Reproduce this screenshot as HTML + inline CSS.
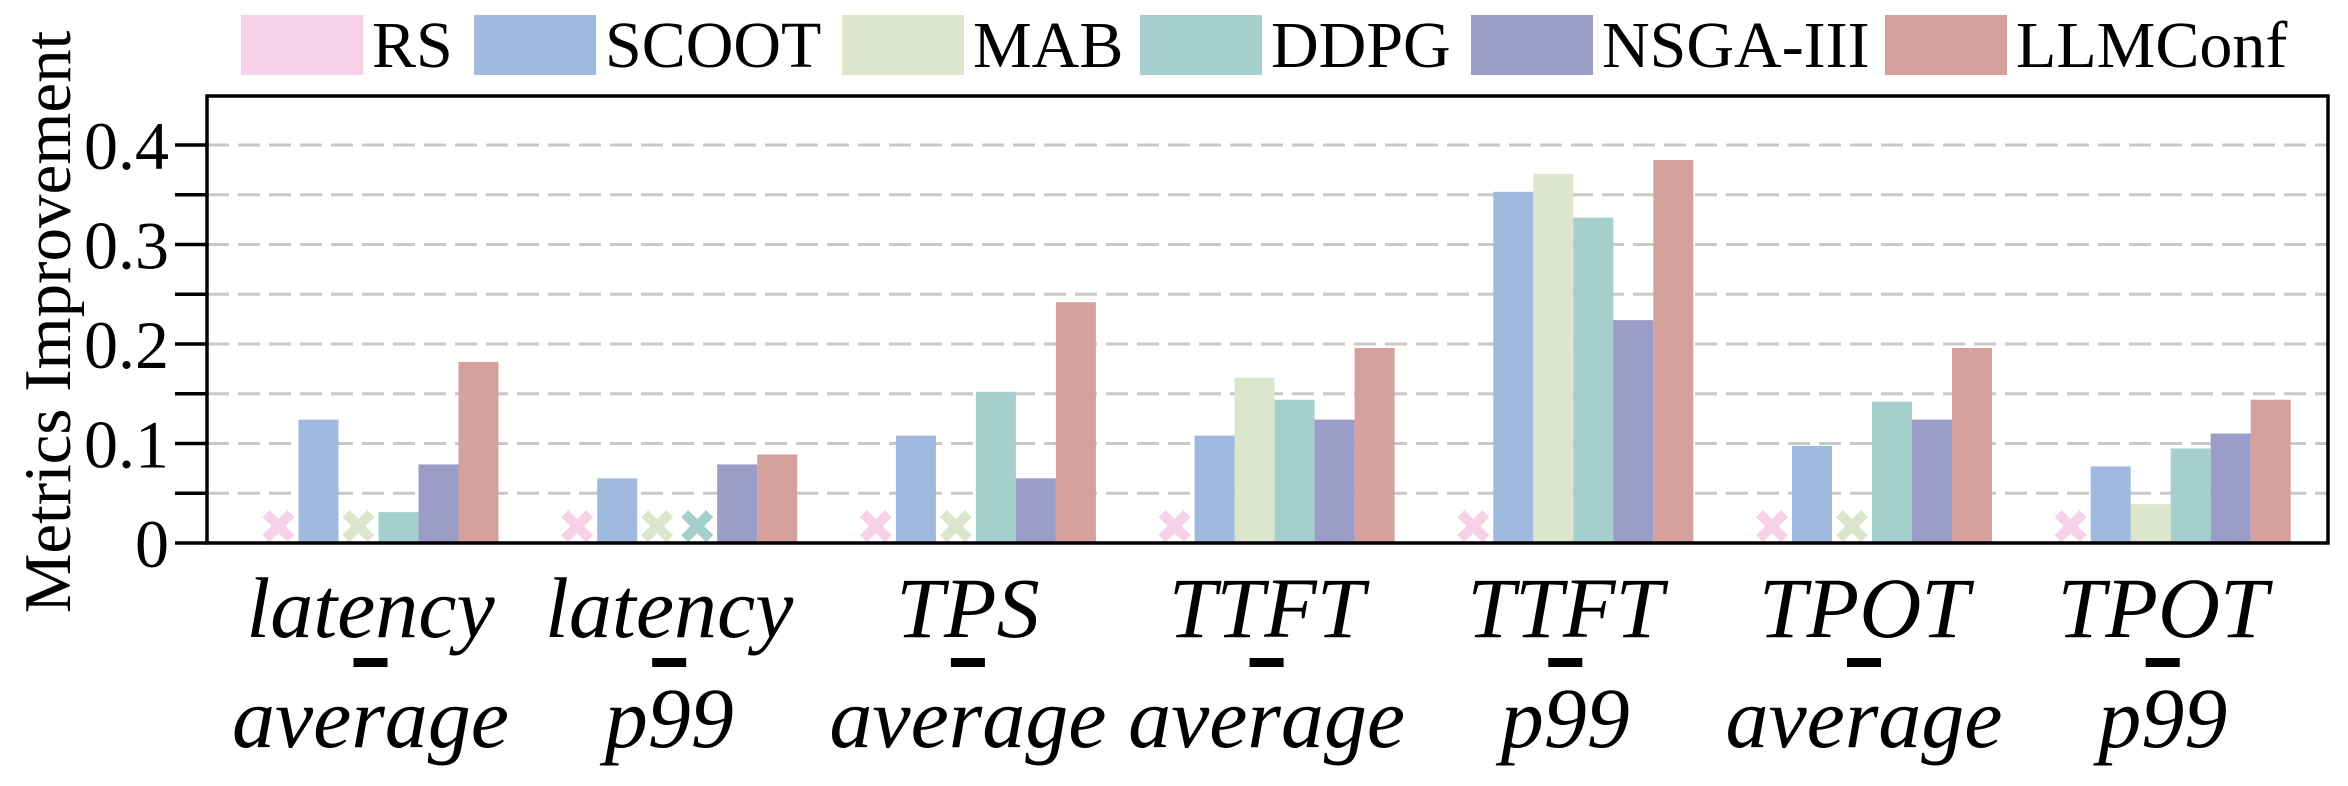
<!DOCTYPE html>
<html><head><meta charset="utf-8"><style>
html,body{margin:0;padding:0;background:#fff;}
svg{display:block;}
text{font-family:"Liberation Serif",serif;fill:#000;}
</style></head>
<body>
<svg id="chart" width="2348" height="786" viewBox="0 0 2348 786" xmlns="http://www.w3.org/2000/svg"></svg>
<script>
const categories = ["latency_average","latency_p99","TPS_average","TTFT_average","TTFT_p99","TPOT_average","TPOT_p99"];
const catLine1 = ["latency","latency","TPS","TTFT","TTFT","TPOT","TPOT"];
const catLine2 = ["average","p99","average","average","p99","average","p99"];
const seriesNames = ["RS","SCOOT","MAB","DDPG","NSGA-III","LLMConf"];
const seriesColors = ["#f7d1e8","#a0b9de","#dce6cc","#a5cfcd","#9b9cc8","#d6a09c"];
// null = no result (drawn as an X marker)
const valsRS     = [null,null,null,null,null,null,null];
const valsSCOOT  = [0.124,0.065,0.108,0.108,0.353,0.0975,0.077];
const valsMAB    = [null,null,null,0.166,0.371,null,0.039];
const valsDDPG   = [0.031,null,0.152,0.144,0.327,0.142,0.095];
const valsNSGA   = [0.079,0.079,0.065,0.124,0.224,0.124,0.110];
const valsLLM    = [0.182,0.089,0.242,0.196,0.385,0.196,0.144];
const majorTicks = [0,0.1,0.2,0.3,0.4];
const tickLabels = ["0","0.1","0.2","0.3","0.4"];
const minorTicks = [0.05,0.15,0.25,0.35];

const allSeries = [valsRS,valsSCOOT,valsMAB,valsDDPG,valsNSGA,valsLLM];
const NS = "http://www.w3.org/2000/svg";
const svg = document.getElementById("chart");
const L = 207, R = 2328, T = 96, B = 543;
const yMax = 0.4493; // domain top at T
function y(v){ return B - (v / yMax) * (B - T); }
const firstCenter = 378.5, groupStep = 298.7, barW = 40;
function xCenter(i){ return firstCenter + i * groupStep; }
function xBar(i, s){ return xCenter(i) - 3 * barW + s * barW; }

function el(tag, attrs, parent){
  const e = document.createElementNS(NS, tag);
  for (const k in attrs) e.setAttribute(k, attrs[k]);
  (parent || svg).appendChild(e);
  return e;
}

// gridlines
const gridG = el("g", {});


[...majorTicks.slice(1), ...minorTicks].forEach(v => {
  const g = el("line", {x1:L, x2:R, y1:y(v), y2:y(v), stroke:"#c8c8c4", "stroke-width":3, "stroke-dasharray":"22 9"}, gridG);
  
  
});

// bars & markers
allSeries.forEach((vals, s) => {
  const sg = el("g", {});
  
  
  vals.forEach((v, i) => {
    const x0 = xBar(i, s);
    if (v === null) {
      const cx = x0 + barW / 2, cy = y(0.017), h = 16, t = 7;
      const d = `M${cx-h},${cy-h+t}L${cx-h+t},${cy-h}L${cx},${cy-t}L${cx+h-t},${cy-h}L${cx+h},${cy-h+t}L${cx+t},${cy}L${cx+h},${cy+h-t}L${cx+h-t},${cy+h}L${cx},${cy+t}L${cx-h+t},${cy+h}L${cx-h},${cy+h-t}L${cx-t},${cy}Z`;
      const m = el("path", {d:d, fill:seriesColors[s]}, sg);
      
      
    } else {
      const b = el("rect", {x:x0, y:y(v), width:barW, height:y(0) - y(v), fill:seriesColors[s]}, sg);
      
      
    }
  });
});

// frame
const frame = el("rect", {x:L, y:T, width:R-L, height:B-T, fill:"none", stroke:"#000", "stroke-width":3.5});



// y ticks
const yAxis = el("g", {});


majorTicks.forEach((v, k) => {
  const t = el("line", {x1:L-32, x2:L, y1:y(v), y2:y(v), stroke:"#000", "stroke-width":3.5}, yAxis);
  
  
  const lb = el("text", {x:L-38, y:y(v)+24, "text-anchor":"end", "font-size":68}, yAxis);
  lb.textContent = tickLabels[k];
  
  
});
minorTicks.forEach(v => {
  const t = el("line", {x1:L-32, x2:L, y1:y(v), y2:y(v), stroke:"#000", "stroke-width":3.5}, yAxis);
  
  
});
const yt = el("text", {x:0, y:0, transform:"translate(70,322) rotate(-90)", "text-anchor":"middle", "font-size":67});
yt.textContent = "Metrics Improvement";



// x labels
categories.forEach((c, i) => {
  const g = el("g", {});
  
  
  const cx = xCenter(i) - 8;
  const t1 = el("text", {x:cx, y:637, "text-anchor":"middle", "font-size":86, "font-style":"italic"}, g);
  t1.textContent = catLine1[i];
  const d = el("rect", {x:cx-17, y:658, width:34, height:9, fill:"#000"}, g);
  
  
  const t2 = el("text", {x:cx, y:747, "text-anchor":"middle", "font-size":86, "font-style":"italic"}, g);
  t2.textContent = catLine2[i];
});

// legend
const legX = [241, 474, 842, 1140, 1471, 1885];
const leg = el("g", {});


seriesNames.forEach((n, s) => {
  const g = el("g", {}, leg);
  
  
  el("rect", {x:legX[s], y:15, width:122, height:60, fill:seriesColors[s]}, g);
  const t = el("text", {x:legX[s]+131, y:67, "font-size":66}, g);
  t.textContent = n;
});
</script>
</body></html>
